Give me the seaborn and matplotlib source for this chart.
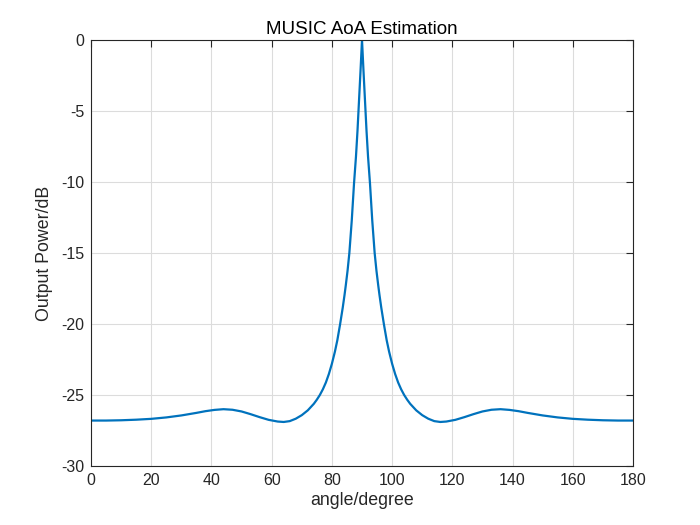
import matplotlib
matplotlib.use("Agg")
import matplotlib.pyplot as plt
import numpy as np
import pandas as pd
import seaborn as sns

# values (left half, then right half)
angle_left = [0, 5, 10, 15, 20, 25, 30, 35, 38, 41, 44, 47, 50, 53, 56, 59, 62, 64,
              66, 68, 70, 72, 74, 75, 76, 77, 78, 79, 80, 81, 81.8, 82.7, 83.6, 84.2,
              84.6, 85.2, 85.8, 86.6, 87.35, 88, 88.5, 89, 89.5, 90]
power_left = [-26.80, -26.80, -26.78, -26.74, -26.68, -26.58, -26.44, -26.26, -26.14,
              -26.05, -26.00, -26.04, -26.16, -26.35, -26.56, -26.75, -26.87, -26.90,
              -26.84, -26.67, -26.42, -26.08, -25.62, -25.33, -25.00, -24.60, -24.12,
              -23.52, -22.80, -21.95, -21.15, -20.05, -18.85, -17.95,
              -17.30, -16.25, -15.00, -12.70, -10.10, -8.20, -6.40, -4.30, -2.20, 0.0]
angle_right = [90.5, 91, 91.5, 92, 92.65, 93.4, 94.2, 94.8, 95.4, 95.8, 96.4, 97.3,
               98.2, 99, 100, 101, 102, 103, 104, 105, 106, 108, 110, 112, 114, 116,
               118, 121, 124, 127, 130, 133, 136, 139, 142, 145, 150, 155, 160, 165,
               170, 175, 180]
power_right = [-2.20, -4.30, -6.40, -8.20, -10.10, -12.70, -15.00, -16.25, -17.30,
               -17.95, -18.85, -20.05, -21.15, -21.95, -22.80, -23.52, -24.12, -24.60,
               -25.00, -25.33, -25.62, -26.08, -26.42, -26.67, -26.84, -26.90, -26.87,
               -26.75, -26.56, -26.35, -26.16, -26.04, -26.00, -26.05, -26.14, -26.26,
               -26.44, -26.58, -26.68, -26.74, -26.78, -26.80, -26.80]

df = pd.DataFrame({"angle": angle_left + angle_right,
                   "power": power_left + power_right})

sns.set_style("white")
plt.rcParams["font.family"] = ["Liberation Sans", "DejaVu Sans"]
plt.rcParams["axes.unicode_minus"] = False

fig = plt.figure(figsize=(7, 5.25), dpi=100)
ax = fig.add_axes([0.13, 0.1124, 0.7743, 0.8114])

sns.lineplot(data=df, x="angle", y="power", color="#0072BD", linewidth=1.6,
             ax=ax, sort=True)

ax.set_xlim(0, 180)
ax.set_ylim(-30, 0)
ax.set_xticks(np.arange(0, 181, 20))
ax.set_yticks(np.arange(-30, 1, 5))
ax.grid(True, color="#dcdcdc", linewidth=0.8)
ax.tick_params(direction="in", length=5, width=0.8, top=True, right=True,
               labelsize=11.5, colors="#262626", pad=5)
for s in ax.spines.values():
    s.set_color("#262626")
    s.set_linewidth(0.8)

ax.set_title("MUSIC AoA Estimation", fontsize=13.5, color="#000000", pad=4)
ax.set_xlabel("angle/degree", fontsize=12.8, color="#262626", labelpad=3)
ax.set_ylabel("Output Power/dB", fontsize=12.8, color="#262626", labelpad=6)

fig.savefig("out.png", dpi=100, facecolor="white")
